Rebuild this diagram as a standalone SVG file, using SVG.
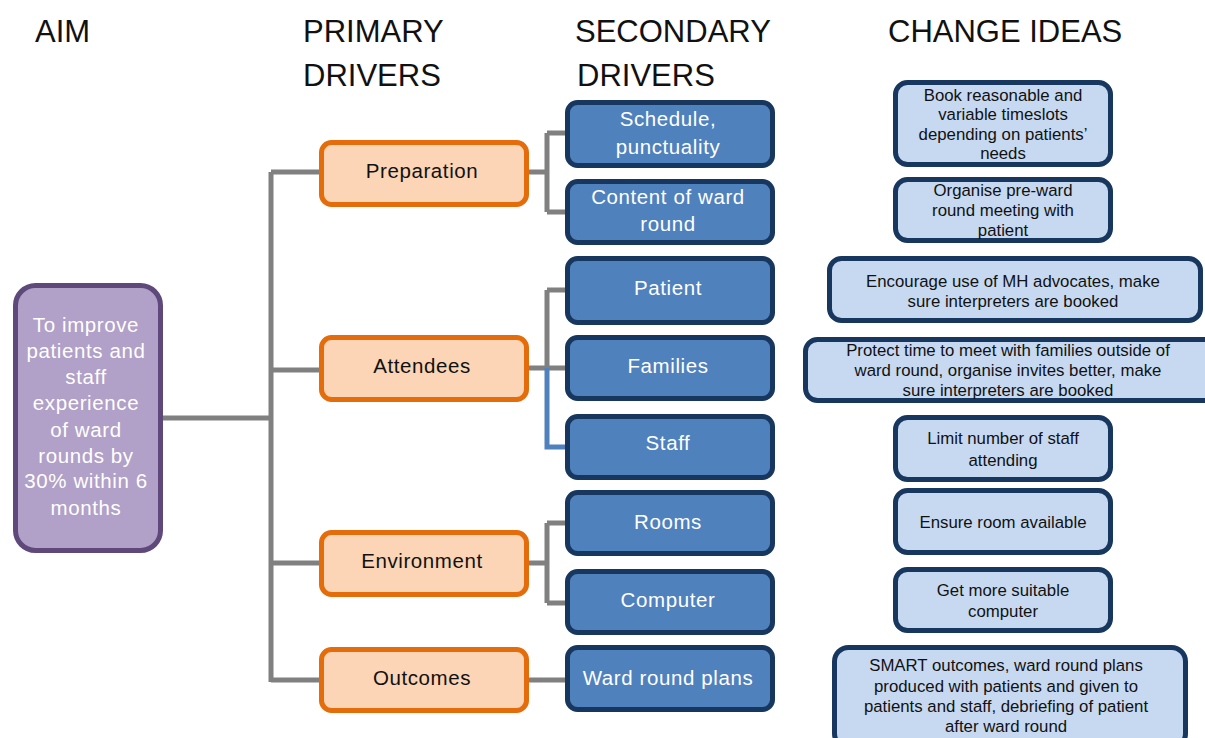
<svg xmlns="http://www.w3.org/2000/svg" width="1205" height="738" viewBox="0 0 1205 738">
<style>
.hdr{font-family:"Liberation Sans",Arial,sans-serif;font-size:31px;fill:#111}
.aim{fill:#b1a0c7;stroke:#5f497a;stroke-width:5}
.aimt{font-family:"Liberation Sans",Arial,sans-serif;font-size:20.5px;fill:#fff;text-anchor:middle;letter-spacing:0.6px}
.pri{fill:#fbd5b5;stroke:#e46c0a;stroke-width:5}
.prit{font-family:"Liberation Sans",Arial,sans-serif;font-size:20.5px;fill:#111;text-anchor:middle;letter-spacing:0.6px}
.sec{fill:#4f81bd;stroke:#17375e;stroke-width:5}
.sect{font-family:"Liberation Sans",Arial,sans-serif;font-size:20.5px;fill:#fff;text-anchor:middle;letter-spacing:0.6px}
.chg{fill:#c6d9f1;stroke:#17375e;stroke-width:5}
.chgt{font-family:"Liberation Sans",Arial,sans-serif;font-size:16.8px;fill:#111;text-anchor:middle}
.g{stroke:#808080;stroke-width:5;fill:none;stroke-linejoin:miter}
.b{stroke:#4f81bd;stroke-width:5;fill:none}
</style>
<rect width="1205" height="738" fill="#fff"/>
<g id="headers">
<text class="hdr" x="35" y="42">AIM</text>
<text class="hdr" x="303" y="42">PRIMARY</text>
<text class="hdr" x="303" y="86">DRIVERS</text>
<text class="hdr" x="575" y="42">SECONDARY</text>
<text class="hdr" x="577" y="86">DRIVERS</text>
<text class="hdr" x="888" y="42">CHANGE IDEAS</text>
</g>
<g id="connectors">
<path class="g" d="M160 418H271"/>
<path class="g" d="M271 172V682"/>
<path class="g" d="M271 172H322M271 370H322M271 563H322M271 680H322"/>
<path class="g" d="M527 172H547M547 133V212M547 133H568M547 212H568"/>
<path class="g" d="M527 368H568M547 290V368M547 290H568"/>
<path class="b" d="M547 368V447H568"/>
<path class="g" d="M527 563H547M547 523V603M547 523H568M547 603H568"/>
<path class="g" d="M527 680H568"/>
</g>
<g id="aim">
<rect class="aim" x="15.5" y="285.5" width="145" height="265" rx="20"/>
<text class="aimt" x="86" y="332">To improve</text>
<text class="aimt" x="86" y="358">patients and</text>
<text class="aimt" x="86" y="384">staff</text>
<text class="aimt" x="86" y="410">experience</text>
<text class="aimt" x="86" y="437">of ward</text>
<text class="aimt" x="86" y="463">rounds by</text>
<text class="aimt" x="86" y="488">30% within 6</text>
<text class="aimt" x="86" y="515">months</text>
</g>
<g id="p-preparation">
<rect class="pri" x="321.5" y="142.5" width="205" height="62" rx="10"/>
<text class="prit" x="422" y="178">Preparation</text>
</g>
<g id="p-attendees">
<rect class="pri" x="321.5" y="337.5" width="205" height="62" rx="10"/>
<text class="prit" x="422" y="373">Attendees</text>
</g>
<g id="p-environment">
<rect class="pri" x="321.5" y="532.5" width="205" height="62" rx="10"/>
<text class="prit" x="422" y="568">Environment</text>
</g>
<g id="p-outcomes">
<rect class="pri" x="321.5" y="649.5" width="205" height="61" rx="10"/>
<text class="prit" x="422" y="685">Outcomes</text>
</g>
<g id="s-schedule">
<rect class="sec" x="567.5" y="102.5" width="205" height="63" rx="10"/>
<text class="sect" x="668" y="126">Schedule,</text>
<text class="sect" x="668" y="154">punctuality</text>
</g>
<g id="s-content">
<rect class="sec" x="567.5" y="181.5" width="205" height="61" rx="10"/>
<text class="sect" x="668" y="204">Content of ward</text>
<text class="sect" x="668" y="231">round</text>
</g>
<g id="s-patient">
<rect class="sec" x="567.5" y="258.5" width="205" height="64" rx="10"/>
<text class="sect" x="668" y="295">Patient</text>
</g>
<g id="s-families">
<rect class="sec" x="567.5" y="337.5" width="205" height="61" rx="10"/>
<text class="sect" x="668" y="373">Families</text>
</g>
<g id="s-staff">
<rect class="sec" x="567.5" y="416.5" width="205" height="61" rx="10"/>
<text class="sect" x="668" y="450">Staff</text>
</g>
<g id="s-rooms">
<rect class="sec" x="567.5" y="492.5" width="205" height="61" rx="10"/>
<text class="sect" x="668" y="529">Rooms</text>
</g>
<g id="s-computer">
<rect class="sec" x="567.5" y="571.5" width="205" height="61" rx="10"/>
<text class="sect" x="668" y="607">Computer</text>
</g>
<g id="s-plans">
<rect class="sec" x="567.5" y="647.5" width="205" height="62" rx="10"/>
<text class="sect" x="668" y="685">Ward round plans</text>
</g>
<g id="c-book">
<rect class="chg" x="895.5" y="82.5" width="215" height="82" rx="12"/>
<text class="chgt" x="1003" y="101">Book reasonable and</text>
<text class="chgt" x="1003" y="120">variable timeslots</text>
<text class="chgt" x="1003" y="140">depending on patients’</text>
<text class="chgt" x="1003" y="159">needs</text>
</g>
<g id="c-organise">
<rect class="chg" x="895.5" y="179.5" width="215" height="61" rx="12"/>
<text class="chgt" x="1003" y="196">Organise pre-ward</text>
<text class="chgt" x="1003" y="216">round meeting with</text>
<text class="chgt" x="1003" y="236">patient</text>
</g>
<g id="c-encourage">
<rect class="chg" x="829.5" y="258.5" width="371" height="62" rx="12"/>
<text class="chgt" x="1013" y="287">Encourage use of MH advocates, make</text>
<text class="chgt" x="1013" y="307">sure interpreters are booked</text>
</g>
<g id="c-protect">
<rect class="chg" x="805.5" y="339.5" width="410" height="61" rx="12"/>
<text class="chgt" x="1008" y="356">Protect time to meet with families outside of</text>
<text class="chgt" x="1008" y="376">ward round, organise invites better, make</text>
<text class="chgt" x="1008" y="396">sure interpreters are booked</text>
</g>
<g id="c-limit">
<rect class="chg" x="895.5" y="417.5" width="215" height="62" rx="12"/>
<text class="chgt" x="1003" y="444">Limit number of staff</text>
<text class="chgt" x="1003" y="466">attending</text>
</g>
<g id="c-ensure">
<rect class="chg" x="895.5" y="490.5" width="215" height="62" rx="12"/>
<text class="chgt" x="1003" y="528">Ensure room available</text>
</g>
<g id="c-computer">
<rect class="chg" x="895.5" y="569.5" width="215" height="61" rx="12"/>
<text class="chgt" x="1003" y="596">Get more suitable</text>
<text class="chgt" x="1003" y="617">computer</text>
</g>
<g id="c-smart">
<rect class="chg" x="834.5" y="647.5" width="351" height="100" rx="14"/>
<text class="chgt" x="1006" y="671">SMART outcomes, ward round plans</text>
<text class="chgt" x="1006" y="692">produced with patients and given to</text>
<text class="chgt" x="1006" y="712">patients and staff, debriefing of patient</text>
<text class="chgt" x="1006" y="732">after ward round</text>
</g>
</svg>
